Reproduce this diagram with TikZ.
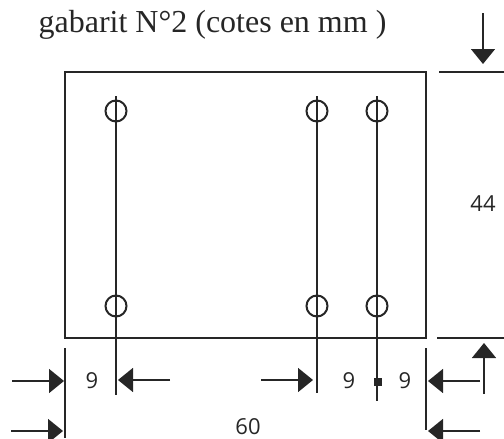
\documentclass[tikz,border=0pt]{standalone}
\usepackage{fontspec}
\setmainfont{Liberation Serif}
\newfontfamily\cotefont{Open Sans}
\usetikzlibrary{arrows.meta}
\begin{document}
\begin{tikzpicture}[x=1pt,y=-1pt,
		line width=2pt,color={black!85},
		plate/.style={draw,minimum width=361pt,minimum height=266pt,inner sep=0pt},
		hole/.style={draw,circle,minimum size=21pt,inner sep=0pt},
		rep/.style={line width=1.7pt},
		cote/.style={line width=1.5pt,-{Triangle[length=15pt,width=24pt]}},
		cotetxt/.style={font=\cotefont\fontsize{22}{26}\selectfont,inner sep=0pt}]
	\useasboundingbox (0,0) rectangle (504,439);
	% le titre et la plaque
	\node[font=\fontsize{32}{36}\selectfont,inner sep=0pt] (titre) at (212.5,25) {gabarit N°2 (cotes en mm )};
	\node[plate] (plaque) at (245.5,205) {};
	% les trous et leurs axes
	\node[hole] (h1) at (116,111) {};
	\node[hole] (h2) at (317,111) {};
	\node[hole] (h3) at (377,111) {};
	\node[hole] (b1) at (116,306) {};
	\node[hole] (b2) at (317,306) {};
	\node[hole] (b3) at (377,306) {};
	\coordinate (a1h) at (116,96);
	\coordinate (a1b) at (116,395);
	\coordinate (a2h) at (317,96);
	\coordinate (a2b) at (317,393);
	\coordinate (a3h) at (377,96);
	\coordinate (a3b) at (377,401);
	\draw[rep] (a1h) -- (a1b);
	\draw[rep] (a2h) -- (a2b);
	\draw[rep] (a3h) -- (a3b);
	\node[fill,minimum size=8pt,inner sep=0pt] (point) at (378,382) {};
	% les lignes de rappel
	\coordinate (rg1) at (65,348);
	\coordinate (rg2) at (65,438);
	\coordinate (rd1) at (426,348);
	\coordinate (rd2) at (426,430);
	\coordinate (rh1) at (439,72);
	\coordinate (rh2) at (504,72);
	\coordinate (rb1) at (437,338);
	\coordinate (rb2) at (504,338);
	\draw[rep] (rg1) -- (rg2);
	\draw[rep] (rd1) -- (rd2);
	\draw[rep] (rh1) -- (rh2);
	\draw[rep] (rb1) -- (rb2);
	% les cotes
	\coordinate (f1) at (12,381);
	\coordinate (p1) at (64,381);
	\coordinate (f2) at (170,380);
	\coordinate (p2) at (118,380);
	\coordinate (f3) at (261,380);
	\coordinate (p3) at (313,380);
	\coordinate (f4) at (480,381);
	\coordinate (p4) at (428,381);
	\coordinate (f5) at (11,431);
	\coordinate (p5) at (63,431);
	\coordinate (f6) at (480,431);
	\coordinate (p6) at (428,431);
	\coordinate (f7) at (483,13);
	\coordinate (p7) at (483,64);
	\coordinate (f8) at (484,394);
	\coordinate (p8) at (484,343);
	\draw[cote] (f1) -- (p1);
	\draw[cote] (f2) -- (p2);
	\draw[cote] (f3) -- (p3);
	\draw[cote] (f4) -- (p4);
	\draw[cote] (f5) -- (p5);
	\draw[cote] (f6) -- (p6);
	\draw[cote] (f7) -- (p7);
	\draw[cote] (f8) -- (p8);
	\node[cotetxt] (c9a) at (92,381) {9};
	\node[cotetxt] (c9b) at (349,381) {9};
	\node[cotetxt] (c9c) at (405,381) {9};
	\node[cotetxt] (c60) at (248,427) {60};
	\node[cotetxt] (c44) at (483,204) {44};
\end{tikzpicture}
\end{document}
